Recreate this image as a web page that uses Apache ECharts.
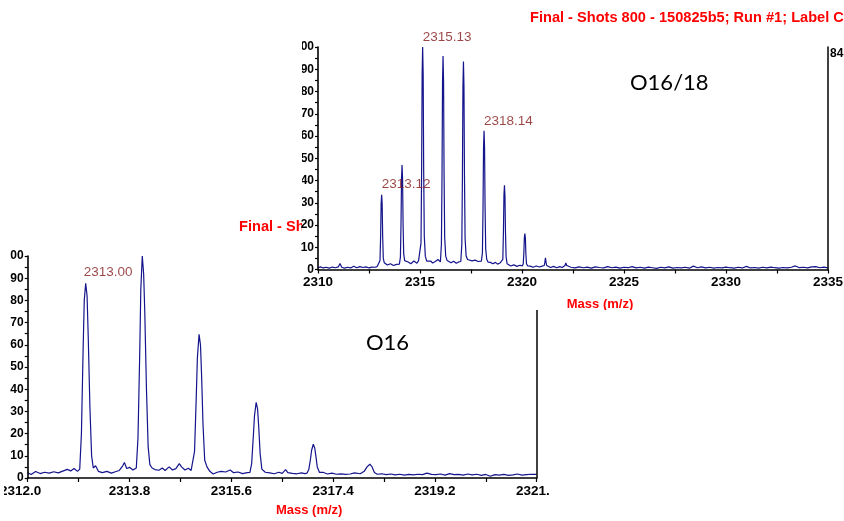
<!DOCTYPE html>
<html><head><meta charset="utf-8">
<script src="https://cdn.jsdelivr.net/npm/echarts@6/dist/echarts.min.js"></script>
<style>html,body{margin:0;padding:0;background:#fff}#c{width:844px;height:521px}</style>
</head><body><div id="c"></div>
<script>
// ---------- DATA ----------
const titleText = 'Final - Shots 800 - 150825b5; Run #1; Label C2';
const axisNameText = 'Mass (m/z)';
const upperTag = 'O16/18';
const lowerTag = 'O16';
const cornerText = '84';

// upper spectrum (O16/18): [mass, relative intensity %]
const upperSpectrum = [
 [2310.00,0.8],[2310.12,1.2],[2310.25,0.7],[2310.40,1.0],[2310.55,0.6],[2310.70,1.1],[2310.85,0.8],[2311.00,1.2],[2311.08,2.7],[2311.16,1.0],
 [2311.30,0.6],[2311.45,1.0],[2311.60,0.7],[2311.75,1.5],[2311.90,0.8],[2312.05,1.3],[2312.20,0.9],[2312.35,1.2],[2312.50,0.7],[2312.65,1.1],
 [2312.80,1.0],[2312.90,1.3],
 [2312.99,1.4],[2313.04,4.0],[2313.07,15],[2313.095,29.5],[2313.12,33.6],[2313.145,29.5],[2313.17,15],[2313.20,5],[2313.25,3.0],[2313.32,2.4],
 [2313.40,2.0],[2313.55,2.6],[2313.70,1.8],[2313.85,2.3],
 [2313.99,2.4],[2314.04,5.6],[2314.07,21],[2314.095,41],[2314.12,47],[2314.145,41],[2314.17,21],[2314.20,7],[2314.25,4.0],[2314.32,3.3],
 [2314.42,3.4],[2314.55,2.6],[2314.70,3.8],[2314.85,2.8],[2314.93,4.0],
 [2315.00,3.2],[2315.05,12],[2315.08,45],[2315.105,88],[2315.13,100],[2315.155,88],[2315.18,45],[2315.21,15],[2315.26,6],[2315.33,3.8],
 [2315.42,3.2],[2315.52,3.8],[2315.62,2.9],[2315.75,3.6],[2315.88,4.5],
 [2316.00,3.4],[2316.05,11.5],[2316.08,43],[2316.105,84.5],[2316.13,96],[2316.155,84.5],[2316.18,43],[2316.21,14.4],[2316.26,6],[2316.33,4.0],
 [2316.42,3.6],[2316.52,3.0],[2316.65,3.7],[2316.78,2.8],[2316.90,3.4],
 [2317.00,3.6],[2317.05,11.2],[2317.08,42],[2317.105,82.3],[2317.13,93.5],[2317.155,82.3],[2317.18,42],[2317.21,14],[2317.26,6.2],[2317.33,4.5],
 [2317.42,4.4],[2317.55,3.9],[2317.70,4.2],[2317.85,3.6],[2317.93,4.0],
 [2318.01,3.8],[2318.06,7.5],[2318.09,28],[2318.115,54.8],[2318.14,62.3],[2318.165,54.8],[2318.19,28],[2318.22,9.3],[2318.27,4.6],[2318.34,3.3],
 [2318.45,3.2],[2318.57,2.6],[2318.70,3.2],[2318.80,2.4],[2318.92,2.9],
 [2319.01,2.6],[2319.06,4.5],[2319.09,17],[2319.115,33.3],[2319.14,37.8],[2319.165,33.3],[2319.19,17],[2319.22,5.7],[2319.27,2.6],[2319.34,1.9],
 [2319.45,1.6],[2319.60,2.1],[2319.75,1.4],[2319.90,1.9],
 [2320.01,1.6],[2320.06,2.5],[2320.09,7.2],[2320.115,14.2],[2320.14,16.1],[2320.165,14.2],[2320.19,7.2],[2320.22,2.6],[2320.28,1.6],
 [2320.40,1.5],[2320.55,1.0],[2320.70,1.6],[2320.85,1.1],[2320.95,1.4],
 [2321.04,1.2],[2321.09,1.8],[2321.12,3.2],[2321.15,5.3],[2321.18,3.2],[2321.21,1.8],[2321.27,1.2],
 [2321.40,0.9],[2321.55,1.4],[2321.70,0.8],[2321.85,1.3],[2321.97,0.9],
 [2322.06,1.0],[2322.11,1.8],[2322.15,3.0],[2322.19,1.8],[2322.25,1.1],
 [2322.40,1.0],[2322.60,0.7],[2322.80,1.2],[2323.00,0.8],[2323.20,1.1],[2323.40,0.6],[2323.60,1.2],[2323.80,0.9],[2324.00,0.7],[2324.20,1.3],
 [2324.40,0.8],[2324.60,1.1],[2324.80,0.6],[2325.00,1.0],[2325.20,0.8],[2325.40,1.3],[2325.60,0.7],[2325.80,1.0],[2326.00,0.6],[2326.20,1.1],
 [2326.40,0.8],[2326.60,0.5],[2326.80,1.0],[2327.00,0.7],[2327.20,1.2],[2327.40,0.6],[2327.60,0.9],[2327.80,0.7],[2328.00,1.0],[2328.20,0.6],
 [2328.40,1.5],[2328.60,0.8],[2328.80,1.2],[2329.00,0.7],[2329.20,1.0],[2329.40,0.6],[2329.60,0.9],[2329.80,0.7],[2330.00,1.1],[2330.20,0.8],
 [2330.40,0.6],[2330.60,1.0],[2330.80,0.7],[2331.00,1.4],[2331.20,0.7],[2331.40,0.9],[2331.60,0.6],[2331.80,1.0],[2332.00,0.7],[2332.20,1.1],
 [2332.40,0.8],[2332.60,0.6],[2332.80,0.9],[2333.00,0.7],[2333.20,1.0],[2333.40,1.6],[2333.60,0.8],[2333.80,1.0],[2334.00,0.7],[2334.20,1.2],
 [2334.40,1.3],[2334.60,0.8],[2334.80,1.1],[2335.00,0.7]
];

// lower spectrum (O16): [mass, relative intensity %]
const lowerSpectrum = [
 [2312.00,2.4],[2312.06,1.6],[2312.14,2.9],[2312.22,2.0],[2312.30,2.6],[2312.38,2.2],[2312.46,2.8],[2312.54,2.3],[2312.62,3.1],[2312.70,3.9],
 [2312.76,3.2],[2312.82,4.3],[2312.88,3.0],
 [2312.92,4],[2312.95,20],[2312.98,58],[2313.00,80],[2313.025,87.7],[2313.05,82],[2313.07,64],[2313.10,32],[2313.13,10],[2313.16,4.5],[2313.20,5.5],
 [2313.25,3.0],[2313.32,2.4],[2313.40,3.0],[2313.48,2.2],[2313.55,2.8],[2313.62,3.4],[2313.68,5.5],[2313.71,7],[2313.75,4.3],[2313.80,4.8],[2313.86,3.6],
 [2313.92,4.5],[2313.95,18],[2313.98,55],[2314.00,85],[2314.026,100],[2314.05,92],[2314.07,75],[2314.10,40],[2314.13,14],[2314.16,6],[2314.20,4.5],
 [2314.25,3.8],[2314.32,3.5],[2314.38,4.5],[2314.43,3.4],[2314.50,5.0],[2314.56,3.6],[2314.62,4.2],[2314.68,6.5],[2314.72,5.0],[2314.78,3.6],
 [2314.84,4.4],[2314.89,3.4],
 [2314.92,4],[2314.95,12],[2314.98,36],[2315.00,54],[2315.03,64.7],[2315.055,60],[2315.075,46],[2315.10,24],[2315.13,8],[2315.17,5],[2315.22,3],
 [2315.28,1.8],[2315.35,2.6],[2315.42,3.0],[2315.50,2.7],[2315.58,3.6],[2315.64,2.4],[2315.72,2.7],[2315.80,2.0],[2315.88,2.4],
 [2315.93,2.5],[2315.96,6.5],[2315.99,19],[2316.01,28],[2316.04,34.1],[2316.065,31],[2316.085,23],[2316.11,11],[2316.14,4],[2316.20,2.6],
 [2316.28,2.3],[2316.36,1.9],[2316.44,2.6],[2316.50,2.1],[2316.56,3.8],[2316.60,2.4],[2316.68,2.1],[2316.76,1.9],[2316.84,2.3],[2316.90,2.0],
 [2316.94,2.2],[2316.97,3.8],[2317.00,8.5],[2317.02,12.5],[2317.05,15.2],[2317.075,13.5],[2317.095,10],[2317.12,5],[2317.16,2.5],
 [2317.22,2.6],[2317.30,1.8],[2317.38,2.2],[2317.46,1.7],[2317.54,1.9],[2317.62,1.6],[2317.70,1.8],[2317.78,2.3],
 [2317.88,1.9],[2317.95,3],[2318.00,5],[2318.05,6.2],[2318.09,5],[2318.13,2.5],[2318.18,1.7],
 [2318.26,1.9],[2318.34,1.5],[2318.42,1.8],[2318.50,1.4],[2318.58,1.7],[2318.66,1.3],[2318.74,1.6],[2318.82,1.4],[2318.90,1.7],[2318.98,1.5],
 [2319.06,2.2],[2319.14,1.6],[2319.22,1.5],[2319.30,1.8],[2319.38,1.3],[2319.46,2.0],[2319.54,1.5],[2319.62,1.6],[2319.70,1.3],[2319.78,1.8],
 [2319.86,1.4],[2319.94,1.7],[2320.02,1.2],[2320.10,1.6],[2320.18,0.8],[2320.26,1.5],[2320.34,1.3],[2320.42,1.6],[2320.50,1.2],[2320.58,1.4],
 [2320.66,1.8],[2320.74,1.3],[2320.82,1.5],[2320.90,1.7],[2321.00,1.6]
];

const upperPeakMass = [2313.12, 2315.13, 2318.14];
const upperPeakLabels = ['2313.12', '2315.13', '2318.14'];
const lowerPeakMass = [2313.025];
const lowerPeakLabels = ['2313.00'];

// axis settings
const upperXMin = 2310, upperXMax = 2335, upperXStep = 2.5, upperXLabelStep = 5;
const lowerXMin = 2312.0, lowerXMax = 2321.0, lowerXStep = 0.9;
const yMin = 0, yMax = 100, yStep = 5, yLabelStep = 10;

// ---------- CHART ----------
const FONT = '"Liberation Sans", Arial, sans-serif';
const LINE = '#14148c';
const RED = '#ff0000';
const PEAKRED = '#821818';

function peakPoints(spec, masses, offset) {
  return masses.map(m => {
    const p = spec.find(d => Math.abs(d[0] - m) < 1e-6);
    return [m - offset, p[1]];
  });
}

const axisLineStyle = {show: true, onZero: false, lineStyle: {color: '#000', width: 1.6}};
const tickStyle = {show: true, length: 4, lineStyle: {color: '#000', width: 1.2}};

function yAxisLeft(gridIndex, zlevel) {
  return {
    type: 'value', gridIndex, zlevel, z: 5, min: yMin, max: yMax, interval: yStep,
    axisLine: axisLineStyle, axisTick: {show: true, length: 3, lineStyle: {color: '#000', width: 1.2}},
    splitLine: {show: false},
    axisLabel: {margin: 4, fontFamily: FONT, fontWeight: 'bold', fontSize: 12, color: '#000',
      formatter: v => (Math.round(v) % yLabelStep === 0 ? String(Math.round(v)) : '')}
  };
}
function yAxisRight(gridIndex, zlevel) {
  return {
    type: 'value', gridIndex, zlevel, z: 5, position: 'right', min: yMin, max: yMax, interval: yStep,
    axisLine: {show: true, onZero: false, lineStyle: {color: '#111', width: 1.6}},
    axisTick: {show: false}, axisLabel: {show: false}, splitLine: {show: false}
  };
}

const chart = echarts.init(document.getElementById('c'), null, {renderer: 'canvas'});
chart.setOption({
  animation: false,
  backgroundColor: '#fff',
  grid: [
    {left: 27.7, right: 307.3, top: 256, bottom: 43, containLabel: false, outerBoundsMode: 'none'},
    {left: 318, right: 16, top: 47, bottom: 251.5, containLabel: false, outerBoundsMode: 'none'}
  ],
  xAxis: [
    {
      type: 'value', gridIndex: 0, zlevel: 0, min: 0, max: lowerXMax - lowerXMin, interval: lowerXStep,
      axisLine: axisLineStyle, axisTick: tickStyle, splitLine: {show: false},
      axisLabel: {margin: 6, fontFamily: FONT, fontWeight: 'bold', fontSize: 13.5, color: '#000',
        showMinLabel: true, showMaxLabel: true,
        rich: {first: {fontFamily: FONT, fontWeight: 'bold', fontSize: 13.5, color: '#000', padding: [0, 14, 0, 0]}},
        formatter: v => {
          const k = Math.round(v / lowerXStep);
          if (k % 2 !== 0) return '';
          const t = (v + lowerXMin).toFixed(1);
          return k === 0 ? '{first|' + t + '}' : t;
        }},
      name: axisNameText, nameLocation: 'middle', nameGap: 26,
      nameTextStyle: {color: RED, fontWeight: 'bold', fontSize: 13, fontFamily: FONT, padding: [0, 0, 0, 54]}
    },
    {
      type: 'value', gridIndex: 1, zlevel: 1, z: 5, min: upperXMin, max: upperXMax, interval: upperXStep,
      axisLine: axisLineStyle, axisTick: tickStyle, splitLine: {show: false},
      axisLabel: {margin: 6, fontFamily: FONT, fontWeight: 'bold', fontSize: 13.5, color: '#000',
        showMinLabel: true, showMaxLabel: true,
        formatter: v => (Math.abs(v % upperXLabelStep) < 1e-6 ? String(v) : '')},
      name: axisNameText, nameLocation: 'middle', nameGap: 28,
      nameTextStyle: {color: RED, fontWeight: 'bold', fontSize: 13, fontFamily: FONT, padding: [0, 0, 0, 54]}
    }
  ],
  yAxis: [yAxisLeft(0, 0), yAxisRight(0, 0), yAxisLeft(1, 1), yAxisRight(1, 1)],
  series: [
    {
      type: 'line', xAxisIndex: 0, yAxisIndex: 0, zlevel: 0, showSymbol: false, silent: true,
      data: lowerSpectrum.map(d => [d[0] - lowerXMin, d[1]]),
      lineStyle: {color: LINE, width: 1.2}
    },
    {
      type: 'scatter', xAxisIndex: 0, yAxisIndex: 0, zlevel: 0, symbolSize: 0, silent: true,
      data: peakPoints(lowerSpectrum, lowerPeakMass, lowerXMin),
      label: {show: true, position: 'top', align: 'left', distance: 4, offset: [-2, 0],
        formatter: p => lowerPeakLabels[p.dataIndex], color: PEAKRED, fontSize: 13.5, fontFamily: FONT}
    },
    {
      type: 'line', xAxisIndex: 1, yAxisIndex: 2, zlevel: 1, z: 3, showSymbol: false, silent: true,
      data: upperSpectrum,
      lineStyle: {color: LINE, width: 1.2}
    },
    {
      type: 'scatter', xAxisIndex: 1, yAxisIndex: 2, zlevel: 1, z: 4, symbolSize: 0, silent: true,
      data: peakPoints(upperSpectrum, upperPeakMass, 0),
      label: {show: true, position: 'top', align: 'left', distance: 3,
        formatter: p => upperPeakLabels[p.dataIndex], color: PEAKRED, fontSize: 13.5, fontFamily: FONT}
    }
  ],
  graphic: {elements: [
    {type: 'text', zlevel: 0, z: 10, x: 239, y: 227, silent: true,
      style: {text: titleText, fill: RED, font: 'bold 14.6px ' + FONT, verticalAlign: 'middle', textVerticalAlign: 'middle'}},
    {type: 'text', zlevel: 0, z: 10, x: 366, y: 343, silent: true,
      style: {text: lowerTag, fill: '#000', font: '22px Lato, "Open Sans", sans-serif', verticalAlign: 'middle', textVerticalAlign: 'middle'}},
    {type: 'rect', zlevel: 1, z: 0, silent: true, shape: {x: 302, y: 0, width: 542, height: 310}, style: {fill: '#fff'}},
    {type: 'text', zlevel: 1, z: 10, x: 530, y: 18, silent: true,
      style: {text: titleText, fill: RED, font: 'bold 14.6px ' + FONT, verticalAlign: 'middle', textVerticalAlign: 'middle'}},
    {type: 'text', zlevel: 1, z: 10, x: 630, y: 83, silent: true,
      style: {text: upperTag, fill: '#000', font: '22px Lato, "Open Sans", sans-serif', verticalAlign: 'middle', textVerticalAlign: 'middle'}},
    {type: 'text', zlevel: 1, z: 10, x: 830, y: 54, silent: true,
      style: {text: cornerText, fill: '#000', font: 'bold 12px ' + FONT, verticalAlign: 'middle', textVerticalAlign: 'middle'}},
    {type: 'rect', zlevel: 2, z: 0, silent: true, shape: {x: 280, y: 30, width: 22, height: 185}, style: {fill: '#fff'}},
    {type: 'rect', zlevel: 2, z: 0, silent: true, shape: {x: 0, y: 248, width: 10.2, height: 16}, style: {fill: '#fff'}},
    {type: 'rect', zlevel: 2, z: 0, silent: true, shape: {x: 0, y: 481, width: 4, height: 20}, style: {fill: '#fff'}},
    {type: 'rect', zlevel: 2, z: 0, silent: true, shape: {x: 549, y: 310, width: 295, height: 211}, style: {fill: '#fff'}}
  ]}
});
</script>
</body></html>
